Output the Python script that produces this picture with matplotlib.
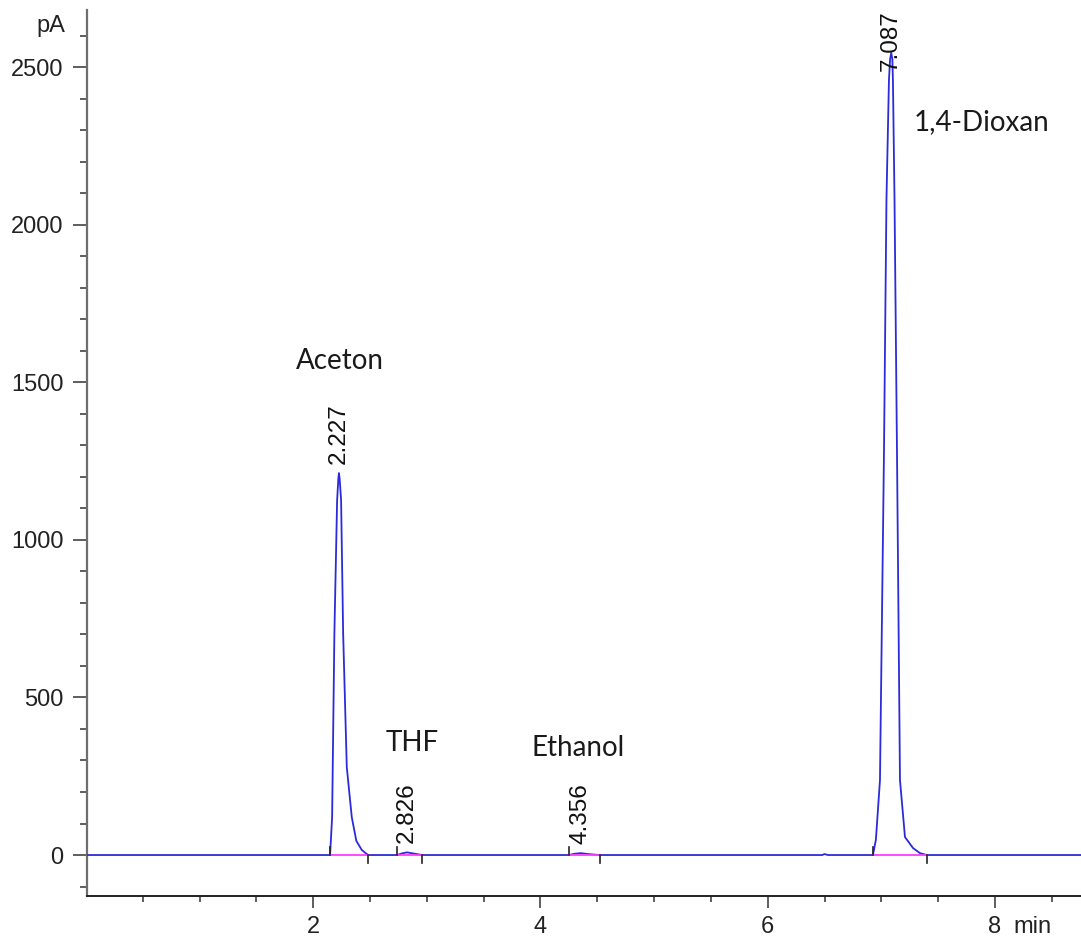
import matplotlib
matplotlib.use("Agg")
import matplotlib.pyplot as plt
from matplotlib.ticker import MultipleLocator, FixedLocator

plt.rcParams["font.family"] = ["Liberation Sans", "DejaVu Sans"]

# ---- data ----
time_min = [0.0, 2.149, 2.167, 2.187, 2.211, 2.222, 2.227, 2.233, 2.246, 2.264, 2.296,
            2.340, 2.380, 2.428, 2.483,
            2.740, 2.780, 2.826, 2.880, 2.960,
            4.250, 4.300, 4.356, 4.420, 4.520,
            6.480, 6.500, 6.530,
            6.926, 6.952, 6.988, 7.023, 7.045, 7.067, 7.077, 7.087, 7.097, 7.102, 7.116,
            7.138, 7.164, 7.208, 7.279, 7.340, 7.400, 8.760]
signal_pA = [0, 0, 120, 704, 1126, 1195, 1212, 1195, 1126, 704, 279,
             120, 45, 16, 0,
             0, 5, 8.5, 5, 0,
             0, 4, 6, 3, 0,
             0, 3, 0,
             0, 48, 238, 1269, 2078, 2459, 2525, 2545, 2525, 2459, 2078,
             1269, 238, 57, 22, 6, 0, 0]

peak_names = ["Aceton", "THF", "Ethanol", "1,4-Dioxan"]
peak_rt = [2.227, 2.826, 4.356, 7.087]
peak_height = [1212, 8.5, 6, 2545]
peak_start = [2.149, 2.740, 4.250, 6.926]
peak_end = [2.483, 2.960, 4.520, 7.400]

y_major_ticks = [0, 500, 1000, 1500, 2000, 2500]
x_major_ticks = [2, 4, 6, 8]

# ---- figure ----
W, H = 1081, 938
fig = plt.figure(figsize=(W / 100, H / 100), dpi=100)
ax = fig.add_axes([87 / W, 42 / H, 1 - 87 / W, (896 - 10) / H])

blue = "#2b2bdc"
ax.plot(time_min, signal_pA, color=blue, lw=1.3, zorder=3, solid_joinstyle="round")

# integration baselines and peak delimiters
for s, e in zip(peak_start, peak_end):
    ax.plot([s, e], [0, 0], color="#ff3cff", lw=1.3, zorder=4)
    ax.plot([s, s], [0, 26], color="#222222", lw=1.2, zorder=5)
    ax.plot([e, e], [0, -26], color="#222222", lw=1.2, zorder=5)

ax.set_xlim(0.01, 8.757)
ax.set_ylim(-130, 2681)

# retention-time labels
rt_font = dict(family="Liberation Sans", size=17.5, color="#111111")
for rt, h in zip(peak_rt, peak_height):
    if h > 2300:
        ax.annotate(f"{rt:.3f}", xy=(rt, 1.0), xycoords=("data", "axes fraction"),
                    xytext=(0, 0), textcoords="offset pixels",
                    rotation=90, ha="center", va="top", zorder=6, **rt_font)
    else:
        ax.annotate(f"{rt:.3f}", xy=(rt, h), xytext=(0, 9), textcoords="offset pixels",
                    rotation=90, ha="center", va="bottom", zorder=6, **rt_font)

# compound names
name_font = dict(family="Lato", size=20, color="#1a1a1a")
name_pos = [(2.24, 1567), (2.87, 355), (4.33, 340), (7.88, 2325)]
for name, (tx, ty) in zip(peak_names, name_pos):
    ax.text(tx, ty, name, ha="center", va="center", **name_font)

# axes styling
for sp in ["top", "right"]:
    ax.spines[sp].set_visible(False)
ax.spines["left"].set_color("#6e6e6e")
ax.spines["left"].set_linewidth(1.6)
ax.spines["bottom"].set_color("#222222")
ax.spines["bottom"].set_linewidth(1.4)

ax.yaxis.set_major_locator(FixedLocator(y_major_ticks))
ax.yaxis.set_minor_locator(MultipleLocator(100))
ax.xaxis.set_major_locator(FixedLocator(x_major_ticks))
ax.xaxis.set_minor_locator(MultipleLocator(0.5))

ax.tick_params(axis="y", which="major", direction="out", length=10, width=1.1,
               color="#333333", pad=7, labelsize=17, labelcolor="#222222")
ax.tick_params(axis="y", which="minor", direction="out", length=5, width=1.1, color="#333333")
ax.tick_params(axis="x", which="major", direction="out", length=8.6, width=1.1,
               color="#333333", pad=6, labelsize=17, labelcolor="#222222")
ax.tick_params(axis="x", which="minor", direction="out", length=4.3, width=1.1, color="#333333")

# unit labels
ax.annotate("pA", xy=(0, 2630), xycoords=("axes fraction", "data"),
            xytext=(-22, 0), textcoords="offset pixels", ha="right", va="center",
            color="#222222", fontsize=17)
ax.annotate("min", xy=(8, 0), xycoords=("data", "axes fraction"),
            xytext=(18, -(8.6 + 6) * 100 / 72), textcoords="offset pixels",
            ha="left", va="top", color="#222222", fontsize=17)

fig.savefig("out.png", dpi=100, facecolor="white")
